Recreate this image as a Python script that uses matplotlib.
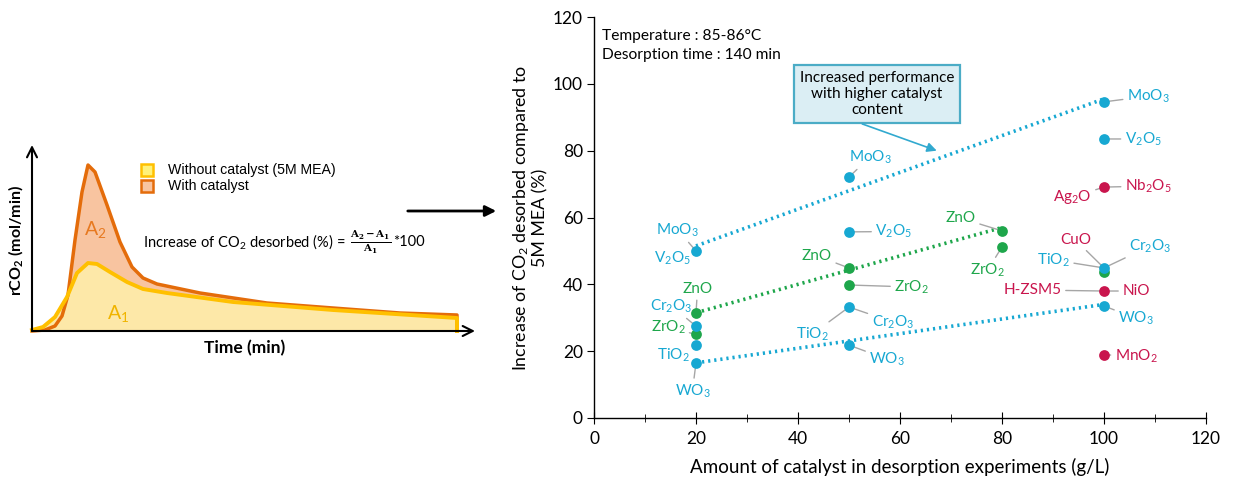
import numpy as np
import matplotlib.pyplot as plt
from matplotlib.patches import FancyArrowPatch

plt.rcParams['font.family'] = ['Lato', 'DejaVu Sans']
plt.rcParams['mathtext.fontset'] = 'dejavuserif'

# ---- schematic (left): desorption curves
t_cat = [0, 13, 23, 30, 36, 43, 50, 56, 63, 75, 88, 100, 111, 125, 168, 235, 301, 368, 425]
r_cat = [0, 1, 5, 15, 36, 91, 139, 166, 159, 126, 89, 64, 53, 47, 38, 28, 23, 18, 16]
t_mea = [0, 11, 23, 35, 45, 56, 65, 78, 95, 111, 135, 201, 301, 425]
r_mea = [1, 4, 14, 34, 58, 68, 67, 59, 49, 42, 38, 29, 21, 13]

# ---- right chart data
cyan_x = [20, 20, 20, 20, 50, 50, 50, 50, 100, 100, 100, 100]
cyan_y = [50.0, 27.5, 21.8, 16.5, 72.1, 55.7, 33.2, 21.8, 94.6, 83.5, 44.9, 33.5]
green_x = [20, 20, 50, 50, 80, 80, 100]
green_y = [31.4, 25.0, 44.9, 39.8, 56.0, 51.2, 43.8]
red_x = [100, 100, 100]
red_y = [69.1, 38.0, 18.9]

trend_hi = ([20, 100], [51.5, 95.5])
trend_mid = ([20, 80], [31.5, 57.0])
trend_lo = ([20, 100], [16.5, 34.0])

# label, point x, point y, text x, text y, colour key
labels = [
    ('MoO$\\mathregular{_3}$', 20, 50.0, 16.4, 56.3, 'c'),
    ('V$\\mathregular{_2}$O$\\mathregular{_5}$', 20, 50.0, 15.4, 47.9, 'c'),
    ('ZnO', 20, 31.4, 20.3, 38.6, 'g'),
    ('Cr$\\mathregular{_2}$O$\\mathregular{_3}$', 20, 27.5, 15.2, 33.5, 'c'),
    ('ZrO$\\mathregular{_2}$', 20, 25.0, 14.5, 27.2, 'g'),
    ('TiO$\\mathregular{_2}$', 20, 21.8, 15.6, 18.9, 'c'),
    ('WO$\\mathregular{_3}$', 20, 16.5, 19.3, 8.1, 'c'),
    ('MoO$\\mathregular{_3}$', 50, 72.1, 54.1, 78.1, 'c'),
    ('V$\\mathregular{_2}$O$\\mathregular{_5}$', 50, 55.7, 58.8, 55.8, 'c'),
    ('ZnO', 50, 44.9, 43.7, 48.5, 'g'),
    ('ZrO$\\mathregular{_2}$', 50, 39.8, 62.3, 39.2, 'g'),
    ('TiO$\\mathregular{_2}$', 50, 33.2, 42.8, 25.1, 'c'),
    ('Cr$\\mathregular{_2}$O$\\mathregular{_3}$', 50, 33.2, 58.6, 28.7, 'c'),
    ('WO$\\mathregular{_3}$', 50, 21.8, 57.5, 17.6, 'c'),
    ('ZnO', 80, 56.0, 71.9, 59.8, 'g'),
    ('ZrO$\\mathregular{_2}$', 80, 51.2, 77.2, 44.3, 'g'),
    ('MoO$\\mathregular{_3}$', 100, 94.6, 108.7, 96.3, 'c'),
    ('V$\\mathregular{_2}$O$\\mathregular{_5}$', 100, 83.5, 107.7, 83.5, 'c'),
    ('Nb$\\mathregular{_2}$O$\\mathregular{_5}$', 100, 69.1, 108.7, 69.4, 'r'),
    ('Ag$\\mathregular{_2}$O', 100, 69.1, 93.8, 66.1, 'r'),
    ('CuO', 100, 44.9, 94.4, 53.3, 'r'),
    ('Cr$\\mathregular{_2}$O$\\mathregular{_3}$', 100, 44.9, 109.1, 51.5, 'c'),
    ('TiO$\\mathregular{_2}$', 100, 44.9, 90.1, 47.3, 'c'),
    ('H-ZSM5', 100, 38.0, 86.0, 38.3, 'r'),
    ('NiO', 100, 38.0, 106.3, 38.0, 'r'),
    ('WO$\\mathregular{_3}$', 100, 33.5, 106.3, 29.9, 'c'),
    ('MnO$\\mathregular{_2}$', 100, 18.9, 106.3, 18.6, 'r'),
]

CYAN = '#17a8d2'
GREEN = '#1ea64b'
RED = '#c9154d'
cols = {'c': CYAN, 'g': GREEN, 'r': RED}

fig = plt.figure(figsize=(12.34, 4.84), dpi=100)

# ---------- left schematic
axl = fig.add_axes([0, 114 / 484, 480 / 1234, 240 / 484])
axl.set_xlim(-32, 448)
axl.set_ylim(-39, 201)
axl.axis('off')

tc = t_cat + [t_cat[-1]]
rc = r_cat + [0]
tm = t_mea + [t_mea[-1]]
rm = r_mea + [0]
axl.fill_between(tc, rc, 0, color='#f8c4a0', lw=0)
axl.fill_between(tm, rm, 0, color='#fde8a8', lw=0)
axl.plot(tc, rc, color='#e46c0a', lw=2.5, solid_joinstyle='round')
axl.plot(tm, rm, color='#ffc000', lw=2.8, solid_joinstyle='round')

axl.annotate('', xy=(443, 0), xytext=(0, 0),
             arrowprops=dict(arrowstyle='->', color='black', lw=1.5, mutation_scale=18,
                             shrinkA=0, shrinkB=0))
axl.annotate('', xy=(0, 186), xytext=(0, 0),
             arrowprops=dict(arrowstyle='->', color='black', lw=1.5, mutation_scale=18,
                             shrinkA=0, shrinkB=0))
axl.text(213, -17, 'Time (min)', ha='center', va='center', fontsize=12.5, fontweight='bold')
axl.text(-16, 91, 'rCO$\\mathregular{_2}$ (mol/min)', ha='center', va='center',
         rotation=90, fontsize=11.5, fontweight='bold')
axl.text(63, 101, 'A$\\mathregular{_2}$', color='#e46c0a', fontsize=14, ha='center', va='center',
         alpha=0.85)
axl.text(86, 18, 'A$\\mathregular{_1}$', color='#f0b400', fontsize=14, ha='center', va='center')

# legend squares
for yy, fc, ec, lab in [(161, '#fff27a', '#ffc000', 'Without catalyst (5M MEA)'),
                        (145, '#f8c4a0', '#e46c0a', 'With catalyst')]:
    axl.add_patch(plt.Rectangle((109, yy - 6), 12, 12, fc=fc, ec=ec, lw=1.8))
    axl.text(136, yy, lab, fontsize=10.2, va='center', family='Liberation Sans')

axl.text(111, 89, 'Increase of CO$\\mathregular{_2}$ desorbed (%) = ', fontsize=10.5,
         va='center')
axl.text(318, 89, '$\\frac{\\mathbf{A_2-A_1}}{\\mathbf{A_1}}$', fontsize=10.5, va='center')
axl.text(361, 89, '*100', fontsize=10.5, va='center')

# connecting arrow
fig.patches.append(FancyArrowPatch(
    (405 / 1234, 1 - 211 / 484), (499 / 1234, 1 - 211 / 484), transform=fig.transFigure,
    arrowstyle='-|>', mutation_scale=16, color='black', lw=2))

# ---------- right chart
ax = fig.add_axes([594 / 1234, 66 / 484, 612 / 1234, 401 / 484])
ax.set_xlim(0, 120)
ax.set_ylim(0, 120)
for s in ['top', 'right']:
    ax.spines[s].set_visible(False)
ax.spines['left'].set_linewidth(1)
ax.spines['bottom'].set_linewidth(1)
ax.set_xticks(np.arange(0, 121, 20))
ax.set_xticks(np.arange(0, 121, 10), minor=True)
ax.set_yticks(np.arange(0, 121, 20))
ax.tick_params(axis='x', which='major', direction='inout', length=9, labelsize=12.5, pad=5)
ax.tick_params(axis='x', which='minor', direction='inout', length=6)
ax.tick_params(axis='y', which='major', direction='out', length=5, labelsize=12.5, pad=3)
ax.set_xlabel('Amount of catalyst in desorption experiments (g/L)', fontsize=13.5, labelpad=8)
ax.set_ylabel('Increase of CO$\\mathregular{_2}$ desorbed compared to\n5M MEA (%)',
              fontsize=12.8, labelpad=3, linespacing=1.15)

ax.plot(*trend_hi, ls=(0, (0.6, 1.1)), color=CYAN, lw=2.6, zorder=2)
ax.plot(*trend_mid, ls=(0, (0.6, 1.1)), color=GREEN, lw=2.6, zorder=2)
ax.plot(*trend_lo, ls=(0, (0.6, 1.1)), color=CYAN, lw=2.6, zorder=2)

for lab, px, py, tx, ty, c in labels:
    ax.annotate(lab, xy=(px, py), xytext=(tx, ty), color=cols[c], fontsize=11,
                ha='center', va='center', zorder=4,
                arrowprops=dict(arrowstyle='-', color='#a6a6a6', lw=1, shrinkA=1, shrinkB=0))

ax.scatter(green_x, green_y, s=60, color=GREEN, zorder=5, lw=0)
ax.scatter(cyan_x, cyan_y, s=60, color=CYAN, zorder=5, lw=0)
ax.scatter(red_x, red_y, s=60, color=RED, zorder=5, lw=0)

ax.text(0.013, 0.953, 'Temperature : 85-86°C', transform=ax.transAxes, fontsize=11.2, va='center')
ax.text(0.013, 0.905, 'Desorption time : 140 min', transform=ax.transAxes, fontsize=11.2,
        va='center')

ax.text(55.5, 97.0, 'Increased performance\nwith higher catalyst\ncontent', ha='center',
        va='center', fontsize=11, linespacing=1.2, zorder=6,
        bbox=dict(boxstyle='square,pad=0.4', fc='#dbeef4', ec='#4bacc6', lw=1.6))
ax.annotate('', xy=(67.2, 80.0), xytext=(52.6, 88.0), zorder=6,
            arrowprops=dict(arrowstyle='-|>', color='#31a9cf', lw=1.2, mutation_scale=14,
                            shrinkA=0, shrinkB=0))

fig.savefig('out.png', dpi=100)
